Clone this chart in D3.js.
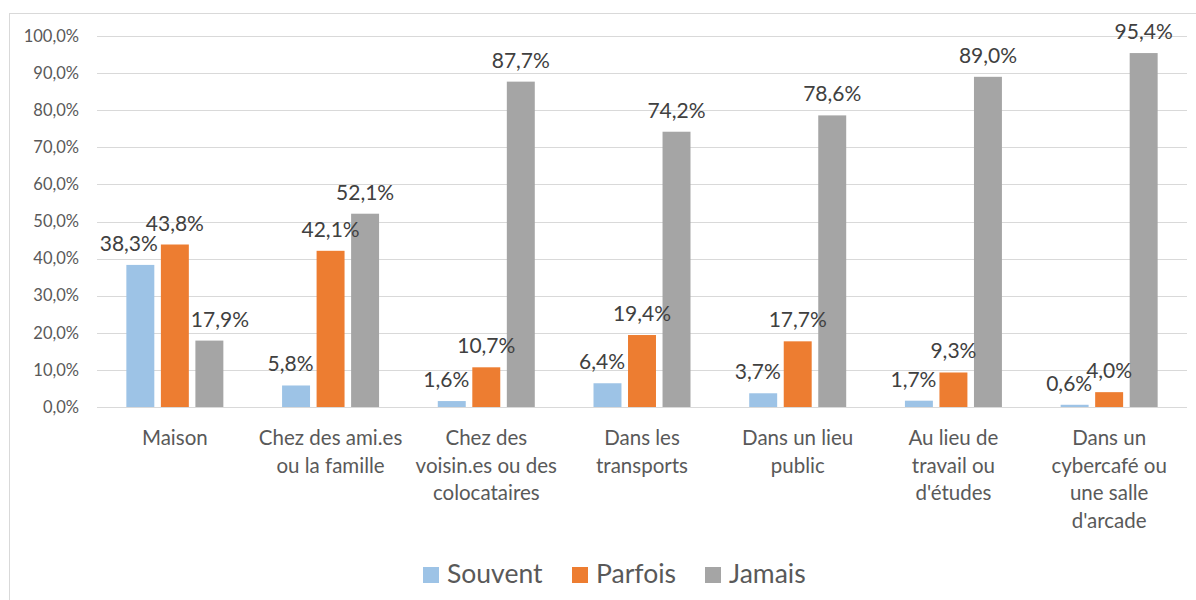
<!DOCTYPE html>
<meta charset="utf-8">
<style>
    body { margin: 0; background: #fff; }
    svg { font-family: Lato, "Open Sans", sans-serif; }
    .grid line { stroke: #d9d9d9; stroke-width: 1; shape-rendering: crispEdges; }
    .tick-label { font-size: 16.5px; fill: #595959; }
    .cat-label { font-size: 20.5px; fill: #595959; }
    .val-label { font-size: 21px; fill: #404040; }
    .legend text { font-size: 26.5px; fill: #595959; }
</style>
<svg id="chart" width="1196" height="600"></svg>
<script src="https://cdn.jsdelivr.net/npm/d3@7"></script>
<script>

    var categories = ["Maison", "Chez des ami.es ou la famille", "Chez des voisin.es ou des colocataires",
        "Dans les transports", "Dans un lieu public", "Au lieu de travail ou d'études",
        "Dans un cybercafé ou une salle d'arcade"];
    // how the axis labels wrap in the picture
    var categoryLines = [
        ["Maison"],
        ["Chez des ami.es", "ou la famille"],
        ["Chez des", "voisin.es ou des", "colocataires"],
        ["Dans les", "transports"],
        ["Dans un lieu", "public"],
        ["Au lieu de", "travail ou", "d'études"],
        ["Dans un", "cybercafé ou", "une salle", "d'arcade"]
    ];
    var series = ["Souvent", "Parfois", "Jamais"];
    var souvent = [38.3, 5.8, 1.6, 6.4, 3.7, 1.7, 0.6];
    var parfois = [43.8, 42.1, 10.7, 19.4, 17.7, 9.3, 4.0];
    var jamais = [17.9, 52.1, 87.7, 74.2, 78.6, 89.0, 95.4];
    var yTicks = [0, 10, 20, 30, 40, 50, 60, 70, 80, 90, 100];
    var colors = ["#9dc3e6", "#ed7d31", "#a5a5a5"];

    var values = [souvent, parfois, jamais];

    var svg = d3.select("#chart");

    // chart frame
    svg.append("rect")
        .attr("x", 9.5).attr("y", 13.5)
        .attr("width", 1200).attr("height", 600)
        .attr("fill", "none")
        .attr("stroke", "#d9d9d9");

    var plotLeft = 97, plotRight = 1187, plotTop = 36, plotBottom = 407;

    var x0 = d3.scaleBand().domain(categories).range([plotLeft, plotRight]);
    var x1 = d3.scaleBand().domain(series).range([-48.5, 48.5]).paddingInner(0.19);
    var y = d3.scaleLinear().domain([0, 100]).range([plotBottom, plotTop]);

    var fmt = function(v) { return v.toFixed(1).replace(".", ",") + "%"; };

    // gridlines
    svg.append("g").attr("class", "grid")
        .selectAll("line").data(yTicks).enter().append("line")
        .attr("x1", plotLeft).attr("x2", plotRight)
        .attr("y1", function(d) { return Math.round(y(d)) + 0.5; })
        .attr("y2", function(d) { return Math.round(y(d)) + 0.5; });

    svg.append("g").selectAll("text").data(yTicks).enter().append("text")
        .attr("class", "tick-label")
        .attr("x", 79)
        .attr("y", function(d) { return y(d); })
        .attr("dy", "0.35em")
        .attr("text-anchor", "end")
        .text(fmt);

    var rows = [];
    categories.forEach(function(c, i) {
        series.forEach(function(s, j) {
            rows.push({cat: c, i: i, s: s, j: j, v: values[j][i]});
        });
    });

    var barX = function(d) { return x0(d.cat) + x0.bandwidth() / 2 + x1(d.s); };

    svg.append("g").selectAll("rect").data(rows).enter().append("rect")
        .attr("x", barX)
        .attr("y", function(d) { return y(d.v); })
        .attr("width", x1.bandwidth())
        .attr("height", function(d) { return plotBottom - y(d.v); })
        .attr("fill", function(d) { return colors[d.j]; });

    // value labels, nudged away from the orange bar when they would sit on it
    var labels = svg.append("g").selectAll("text").data(rows).enter().append("text")
        .attr("class", "val-label")
        .attr("text-anchor", "middle")
        .attr("y", function(d) { return y(d.v) - 14; })
        .text(function(d) { return fmt(d.v); });

    labels.attr("x", function(d) {
        var w = this.getComputedTextLength();
        var cx = barX(d) + x1.bandwidth() / 2;
        var mid = {cat: d.cat, s: "Parfois"};
        var midTop = y(values[1][d.i]);
        var labelBottom = y(d.v) - 10;
        if (d.j === 0 && midTop < labelBottom) {
            cx = Math.min(cx, barX(mid) - 3 - w / 2);
        }
        if (d.j === 2 && midTop < labelBottom) {
            cx = Math.max(cx, barX(mid) + x1.bandwidth() + 2 + w / 2);
        }
        return cx;
    });

    // category labels
    var cat = svg.append("g").selectAll("text").data(categories).enter().append("text")
        .attr("class", "cat-label")
        .attr("text-anchor", "middle")
        .attr("x", function(d) { return x0(d) + x0.bandwidth() / 2; })
        .attr("y", 445);

    cat.selectAll("tspan").data(function(d, i) { return categoryLines[i]; }).enter().append("tspan")
        .attr("x", function() { return d3.select(this.parentNode).attr("x"); })
        .attr("dy", function(d, k) { return k === 0 ? 0 : 27.5; })
        .text(function(d) { return d; });

    // legend
    var legendX = [423, 572, 705];
    var lg = svg.append("g").attr("class", "legend")
        .selectAll("g").data(series).enter().append("g")
        .attr("transform", function(d, i) { return "translate(" + legendX[i] + ",0)"; });

    lg.append("rect")
        .attr("x", 0).attr("y", 567)
        .attr("width", 16).attr("height", 16)
        .attr("fill", function(d, i) { return colors[i]; });

    lg.append("text")
        .attr("x", 24).attr("y", 583)
        .text(function(d) { return d; });

</script>
